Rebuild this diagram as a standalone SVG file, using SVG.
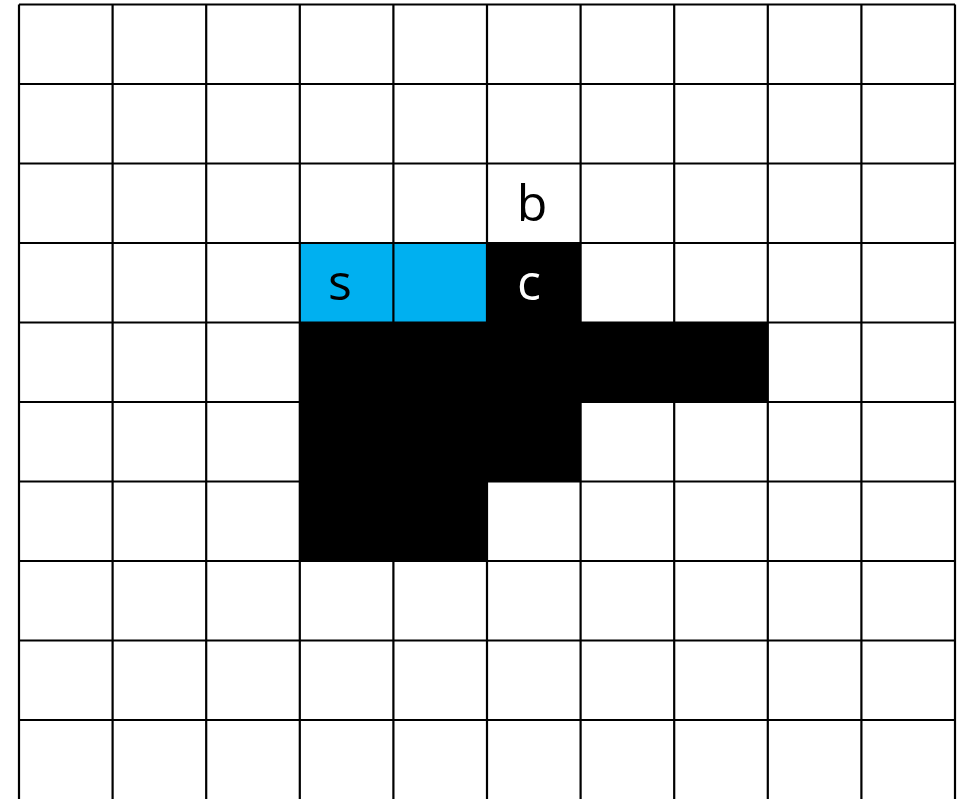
<svg xmlns="http://www.w3.org/2000/svg" width="957" height="799" viewBox="0 0 957 799">
<style>
.g{stroke:#000;stroke-width:2.2;fill:none}
.blk{fill:#000}
.blu{fill:#00B0F0}
.t{font-family:"Open Sans","Liberation Sans",sans-serif;font-size:50px;text-anchor:middle}
</style>
<rect width="957" height="799" fill="#fff"/>
<g id="cells">
<rect class="blu" x="299.8" y="243" width="187.2" height="79.5"/>
<rect class="blk" x="487" y="243" width="93.6" height="79.5"/>
<rect class="blk" x="299.8" y="322.5" width="468" height="79.5"/>
<rect class="blk" x="299.8" y="402" width="280.8" height="79.5"/>
<rect class="blk" x="299.8" y="481.5" width="187.2" height="79.5"/>
</g>
<g id="grid" class="g">
<path d="M19,4.5V799M112.6,4.5V799M206.2,4.5V799M299.8,4.5V799M393.4,4.5V799M487,4.5V799M580.6,4.5V799M674.2,4.5V799M767.8,4.5V799M861.4,4.5V799M955,4.5V799"/>
<path d="M19,4.5H955M19,84H955M19,163.5H955M19,243H955M19,322.5H955M19,402H955M19,481.5H955M19,561H955M19,640.5H955M19,720H955"/>
</g>
<g id="labels">
<text class="t" x="532" y="221">b</text>
<text class="t" x="340" y="300">s</text>
<text class="t" x="529" y="300" fill="#fff">c</text>
</g>
</svg>
